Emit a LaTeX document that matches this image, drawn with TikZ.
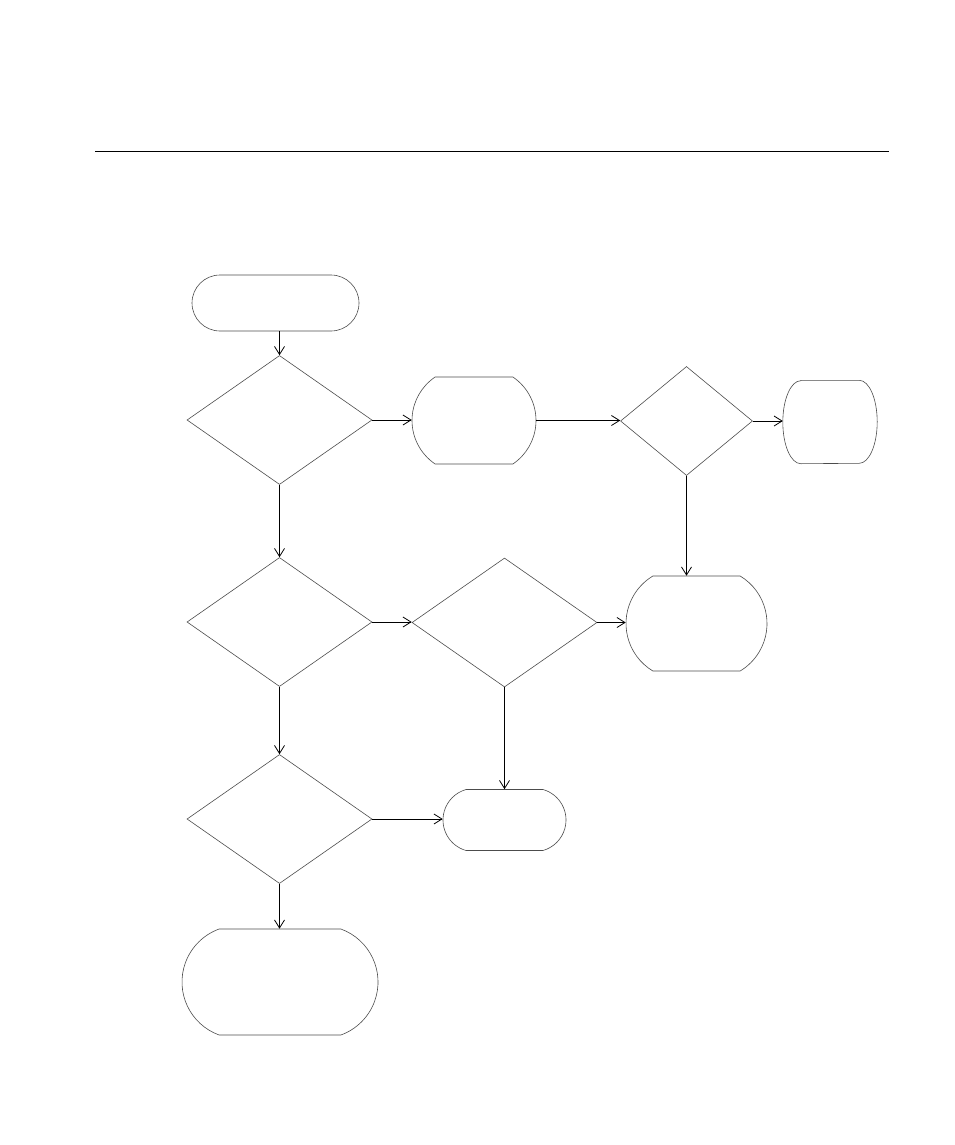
\documentclass[tikz,border=0pt]{standalone}
\usetikzlibrary{shapes.geometric,shapes.misc,arrows.meta}
\begin{document}
\begin{tikzpicture}[x=1pt,y=-1pt,
  dec/.style={diamond,draw=black!70,line width=0.6pt,inner sep=0pt},
  term/.style={rounded rectangle,draw=black!70,line width=0.6pt,inner sep=0pt},
  outline/.style={draw=black!70,line width=0.6pt},
  conn/.style={draw=black,line width=0.9pt,-{Straight Barb[length=8pt,width=10pt,line width=0.8pt]}}]
\useasboundingbox (0,0) rectangle (954,1145);
\draw[line width=0.9pt] (95,151) coordinate (hl) -- (889,151) coordinate (hr);
\node[term,minimum width=167pt,minimum height=56pt,rounded rectangle arc length=180] (start) at (275.5,303) {};
\node[dec,minimum width=185pt,minimum height=129pt] (d1) at (279.5,420) {};
\node[term,minimum width=124pt,minimum height=87pt,rounded rectangle arc length=112] (b2) at (474,420.5) {};
\node[dec,minimum width=132pt,minimum height=109pt] (d2) at (686.5,421) {};
\node[rectangle,inner sep=0pt,minimum width=94pt,minimum height=83pt] (b3) at (830,422) {};
\draw[outline] ([xshift=18pt]b3.north west) -- ([xshift=-18pt]b3.north east)
  arc[start angle=-90,end angle=90,x radius=18,y radius=41.5]
  -- ([xshift=18pt]b3.south west)
  arc[start angle=90,end angle=270,x radius=18,y radius=41.5] -- cycle;
\node[term,minimum width=141pt,minimum height=95pt,rounded rectangle arc length=118] (b4) at (696.5,623.5) {};
\node[dec,minimum width=185pt,minimum height=129pt] (d3) at (279.5,622) {};
\node[dec,minimum width=185pt,minimum height=129pt] (d4) at (504.5,622.5) {};
\node[dec,minimum width=185pt,minimum height=129pt] (d5) at (279.5,819) {};
\node[term,minimum width=123pt,minimum height=61pt,rounded rectangle arc length=148] (b5) at (504.5,820) {};
\node[term,minimum width=196pt,minimum height=106pt,rounded rectangle arc length=140] (b6) at (280,982) {};
\draw[conn] (start.south -| d1.north) -- (d1.north);
\draw[conn] (d1.east) -- (d1.east -| b2.west);
\draw[conn] (b2.east) -- (b2.east -| d2.west);
\draw[conn] (d2.east) -- (d2.east -| b3.west);
\draw[conn] (d2.south) -- (d2.south |- b4.north);
\draw[conn] (d1.south) -- (d3.north);
\draw[conn] (d3.east) -- (d3.east -| d4.west);
\draw[conn] (d4.east) -- (d4.east -| b4.west);
\draw[conn] (d4.south) -- (d4.south |- b5.north);
\draw[conn] (d3.south) -- (d5.north);
\draw[conn] (d5.east) -- (d5.east -| b5.west);
\draw[conn] (d5.south) -- (d5.south |- b6.north);
\end{tikzpicture}
\end{document}
